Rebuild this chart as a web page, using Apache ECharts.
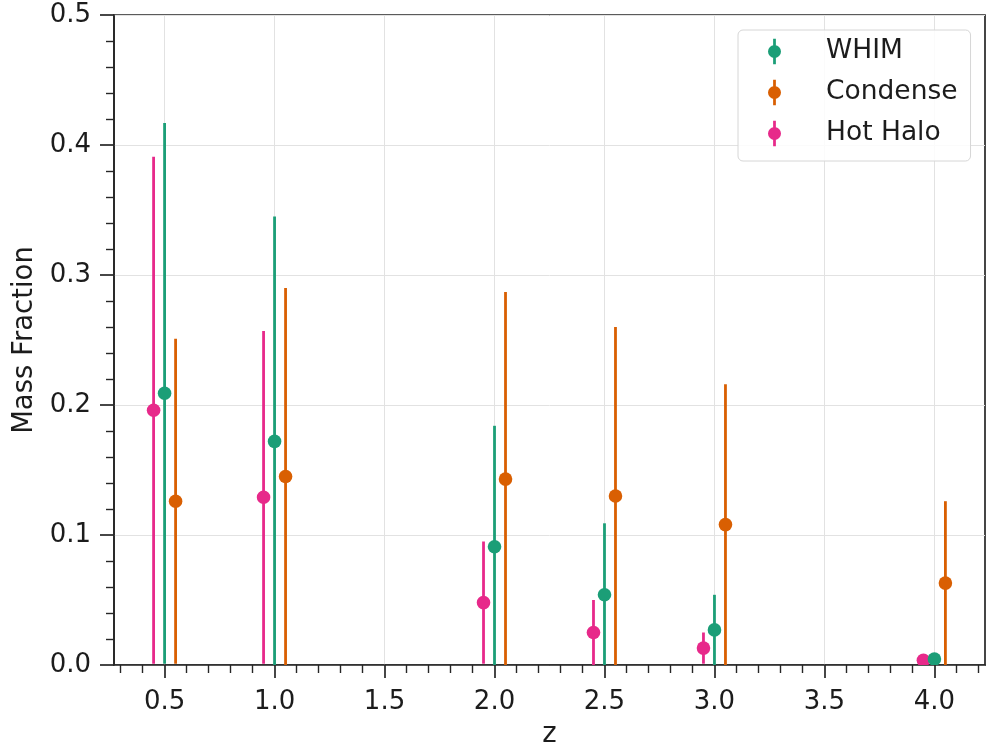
<!DOCTYPE html>
<html>
<head>
<meta charset="utf-8">
<title>Mass Fraction vs z</title>
<script src="https://cdn.jsdelivr.net/npm/echarts@6/dist/echarts.min.js"></script>
<style>
  html, body { margin: 0; padding: 0; background: #ffffff; }
  #chart { width: 991px; height: 742px; }
</style>
</head>
<body>
<div id="chart"></div>
<script>
// Redshift bins
const redshift = [0.5, 1.0, 2.0, 2.5, 3.0, 4.0];

// Mass fraction and 1-sigma error per phase
const whim = [0.209, 0.172, 0.091, 0.054, 0.027, 0.0046];
const whimErr = [0.208, 0.173, 0.093, 0.055, 0.027, 0.0046];

const condense = [0.126, 0.145, 0.143, 0.130, 0.108, 0.063];
const condenseErr = [0.125, 0.145, 0.144, 0.130, 0.108, 0.063];

const hotHalo = [0.196, 0.129, 0.048, 0.025, 0.013, 0.0036];
const hotHaloErr = [0.195, 0.128, 0.047, 0.025, 0.012, 0.0036];

// Axis ticks
const xMajorTicks = [0.5, 1.0, 1.5, 2.0, 2.5, 3.0, 3.5, 4.0];
const xMinorTicks = [0.3, 0.4, 0.6, 0.7, 0.8, 0.9, 1.1, 1.2, 1.3, 1.4, 1.6, 1.7, 1.8, 1.9,
  2.1, 2.2, 2.3, 2.4, 2.6, 2.7, 2.8, 2.9, 3.1, 3.2, 3.3, 3.4, 3.6, 3.7, 3.8, 3.9, 4.1, 4.2];

const FONT = 'DejaVu Sans';
const INK = '#1c1c1c';
const AXIS = '#262626';
const GRIDLINE = '#e2e2e2';
const colors = { WHIM: '#1b9e77', Condense: '#d95f02', 'Hot Halo': '#e7298a' };

// Errorbar legend glyph: vertical bar with a dot in the middle
const errorbarIcon = 'path://M-1.4,-13L1.4,-13L1.4,13L-1.4,13Z M6.6,0A6.6,6.6,0,1,1,-6.6,0A6.6,6.6,0,1,1,6.6,0Z';

function rows(values, errors) {
  return redshift.map((z, i) => [z, values[i], errors[i]]);
}

// Each point is drawn as a vertical error bar plus a filled marker,
// shifted sideways by `dodge` (in z units) so the three phases sit side by side.
function errorbarSeries(name, values, errors, dodge, z) {
  return {
    name: name,
    type: 'custom',
    z: z,
    clip: true,
    itemStyle: { color: colors[name] },
    encode: { x: 0, y: 1 },
    data: rows(values, errors),
    renderItem: function (params, api) {
      const x = api.value(0) + dodge;
      const y = api.value(1);
      const e = api.value(2);
      const top = api.coord([x, y + e]);
      const bottom = api.coord([x, Math.max(0, y - e)]);
      const c = api.coord([x, y]);
      const color = api.visual('color');
      return {
        type: 'group',
        children: [
          { type: 'line', shape: { x1: top[0], y1: top[1], x2: bottom[0], y2: bottom[1] },
            style: { stroke: color, lineWidth: 2.8 } },
          { type: 'circle', shape: { cx: c[0], cy: c[1], r: 6.8 },
            style: { fill: color } }
        ]
      };
    }
  };
}

const chart = echarts.init(document.getElementById('chart'), null, { renderer: 'canvas' });

chart.setOption({
  animation: false,
  backgroundColor: '#ffffff',
  color: [colors.WHIM, colors.Condense, colors['Hot Halo']],
  grid: {
    left: 114, right: 6, top: 15, bottom: 77,
    outerBoundsMode: 'none',
    containLabel: false,
    show: true, borderColor: AXIS, borderWidth: 1.7, backgroundColor: 'transparent'
  },
  legend: {
    left: 738, top: 30,
    orient: 'vertical',
    itemWidth: 13, itemHeight: 26, itemGap: 14,
    padding: [8, 13, 14, 30],
    backgroundColor: 'rgba(255,255,255,0.85)',
    borderColor: '#d6d6d6', borderWidth: 1, borderRadius: 5,
    textStyle: { fontFamily: FONT, fontSize: 26.5, lineHeight: 26, color: INK, padding: [0, 0, 0, 40] },
    data: [
      { name: 'WHIM', icon: errorbarIcon },
      { name: 'Condense', icon: errorbarIcon },
      { name: 'Hot Halo', icon: errorbarIcon }
    ]
  },
  xAxis: [
    {
      type: 'value', min: 0.27, max: 4.23,
      name: 'z', nameLocation: 'middle', nameGap: 56,
      nameTextStyle: { fontFamily: FONT, fontSize: 27.5, color: INK },
      axisLine: { show: true, onZero: false, lineStyle: { color: AXIS, width: 1.7 } },
      axisTick: { show: true, inside: false, length: 13, customValues: xMajorTicks,
        lineStyle: { color: AXIS, width: 1.7 } },
      axisLabel: { show: true, margin: 24, customValues: xMajorTicks,
        fontFamily: FONT, fontSize: 26, color: INK,
        formatter: v => v.toFixed(1) },
      splitLine: { show: true, lineStyle: { color: GRIDLINE, width: 1 } }
    },
    {
      type: 'value', min: 0.27, max: 4.23, position: 'bottom',
      axisLine: { show: false },
      axisTick: { show: true, inside: false, length: 8, customValues: xMinorTicks,
        lineStyle: { color: AXIS, width: 1.4 } },
      axisLabel: { show: false },
      splitLine: { show: false }
    }
  ],
  yAxis: {
    type: 'value', min: 0, max: 0.5, interval: 0.1,
    name: 'Mass Fraction', nameLocation: 'middle', nameGap: 72,
    nameTextStyle: { fontFamily: FONT, fontSize: 27.5, color: INK },
    axisLine: { show: true, onZero: false, lineStyle: { color: AXIS, width: 1.7 } },
    axisTick: { show: true, inside: false, length: 14, lineStyle: { color: AXIS, width: 1.7 } },
    minorTick: { show: true, splitNumber: 5, length: 8, lineStyle: { color: AXIS, width: 1.4 } },
    axisLabel: { margin: 23, fontFamily: FONT, fontSize: 26, color: INK,
      formatter: v => v.toFixed(1) },
    splitLine: { show: true, lineStyle: { color: GRIDLINE, width: 1 } },
    minorSplitLine: { show: false }
  },
  series: [
    errorbarSeries('Hot Halo', hotHalo, hotHaloErr, -0.05, 2),
    errorbarSeries('Condense', condense, condenseErr, 0.05, 3),
    errorbarSeries('WHIM', whim, whimErr, 0, 4)
  ]
});
</script>
</body>
</html>
